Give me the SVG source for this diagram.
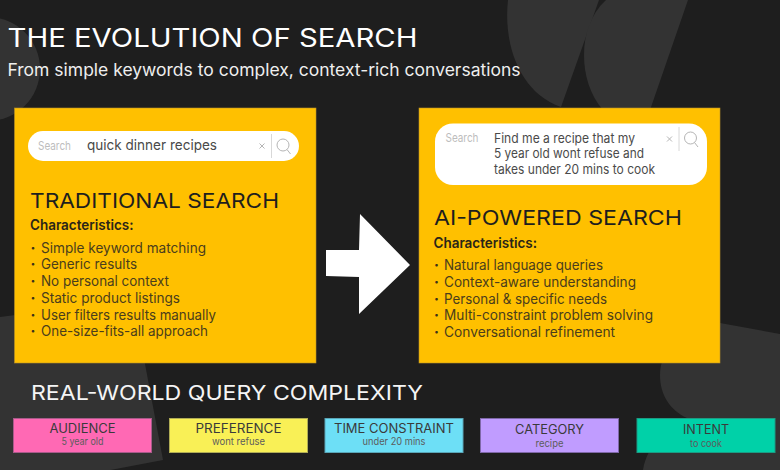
<svg xmlns="http://www.w3.org/2000/svg" width="780" height="470" viewBox="0 0 780 470">
<style>
text{font-family:Inter,"Liberation Sans",sans-serif;}
.bg{fill:#333;}
.panel{fill:#ffc000;stroke:#b8912a;stroke-width:.6;}
.h{font-size:20.500px;fill:#1e1e1e;}
.ch{font-size:14px;font-weight:600;fill:#2a2518;}
.li{font-size:14px;fill:#4a3d1c;}
.dot{font-size:14px;font-weight:800;fill:#3a3018;}
.bar{fill:#fff;}
.ph{font-size:12px;fill:#bdbdbd;}
.q{font-size:14.500px;fill:#4a4a4a;}
.q2{font-size:13px;fill:#4a4a4a;}
.ic{fill:none;stroke:#b5b5b5;stroke-width:1;}
.div{stroke:#d8d8d8;stroke-width:1;}
.card{stroke-width:1;}
.ct{font-size:12.500px;fill:#3a3a3a;text-anchor:middle;}
.cs{font-size:10.500px;fill:#5c5c5c;text-anchor:middle;}
</style>
<rect width="780" height="470" fill="#1e1e1e"/>
<g id="background-shapes">
<circle class="bg" cx="-12" cy="69" r="52"/>
<path class="bg" d="M0 317L133 300L163 460L100 472L0 472Z"/>
<path class="bg" d="M508 0C503 45 520 93 561 107L599 0Z"/>
<path class="bg" d="M606 0C590 15 584 35 584 55C584 75 590 95 603 110L650 110L688 0Z"/>
<path class="bg" d="M720 323L780 334L780 470L643 470C644 463 646 458 649 452L687 418C670 410 660 395 660 375C660 350 680 325 720 323Z"/>
</g>
<g id="title">
<text x="7.500" y="46.500" font-size="25" fill="#fff" textLength="410" lengthAdjust="spacingAndGlyphs">THE EVOLUTION OF SEARCH</text>
<text x="7.500" y="76" font-size="17" fill="#efefef" textLength="513" lengthAdjust="spacingAndGlyphs">From simple keywords to complex, context-rich conversations</text>
</g>
<g id="connectors">
<path fill="#fff" d="M360 214L410 265L359 314L359 277L326 276L326 250L359 250Z"/>
</g>
<g id="traditional-search">
<rect class="panel" x="14.500" y="108" width="301.500" height="255"/>
<rect class="bar" x="28" y="131" width="271" height="30" rx="15"/>
<text class="ph" x="38" y="149.500" textLength="33" lengthAdjust="spacingAndGlyphs">Search</text>
<text class="q" x="87" y="150" textLength="130" lengthAdjust="spacingAndGlyphs">quick dinner recipes</text>
<path class="ic" d="M259.500 143.500l5 5m0-5l-5 5"/>
<path class="div" d="M271.500 134v24"/>
<circle class="ic" cx="283" cy="145" r="6"/><path class="ic" d="M287 149.500l3.500 4.500"/>
<text class="h" x="30" y="208" textLength="249" lengthAdjust="spacingAndGlyphs">TRADITIONAL SEARCH</text>
<text class="ch" x="30" y="230" textLength="103.500" lengthAdjust="spacingAndGlyphs">Characteristics:</text>
<text class="dot" x="30.500" y="252.500">·</text><text class="li" x="41" y="252.500" textLength="165" lengthAdjust="spacingAndGlyphs">Simple keyword matching</text>
<text class="dot" x="30.500" y="269">·</text><text class="li" x="41" y="269" textLength="96" lengthAdjust="spacingAndGlyphs">Generic results</text>
<text class="dot" x="30.500" y="286">·</text><text class="li" x="41" y="286" textLength="128" lengthAdjust="spacingAndGlyphs">No personal context</text>
<text class="dot" x="30.500" y="302.500">·</text><text class="li" x="41" y="302.500" textLength="139" lengthAdjust="spacingAndGlyphs">Static product listings</text>
<text class="dot" x="30.500" y="319.500">·</text><text class="li" x="41" y="319.500" textLength="175" lengthAdjust="spacingAndGlyphs">User filters results manually</text>
<text class="dot" x="30.500" y="336">·</text><text class="li" x="41" y="336" textLength="167" lengthAdjust="spacingAndGlyphs">One-size-fits-all approach</text>
</g>
<g id="ai-powered-search">
<rect class="panel" x="419" y="108" width="301" height="255"/>
<rect class="bar" x="435" y="123.500" width="272" height="61.500" rx="18"/>
<text class="ph" x="445.500" y="142" textLength="33" lengthAdjust="spacingAndGlyphs">Search</text>
<text class="q2" x="494" y="143" textLength="141" lengthAdjust="spacingAndGlyphs">Find me a recipe that my</text>
<text class="q2" x="494" y="158" textLength="150" lengthAdjust="spacingAndGlyphs">5 year old wont refuse and</text>
<text class="q2" x="494" y="173.500" textLength="161" lengthAdjust="spacingAndGlyphs">takes under 20 mins to cook</text>
<path class="ic" d="M667 136.500l5 5m0-5l-5 5"/>
<path class="div" d="M679 127v24"/>
<circle class="ic" cx="690.500" cy="138" r="6"/><path class="ic" d="M694.500 142.500l3.500 4.500"/>
<text class="h" x="434" y="225" textLength="248" lengthAdjust="spacingAndGlyphs">AI-POWERED SEARCH</text>
<text class="ch" x="433.500" y="247.500" textLength="103.500" lengthAdjust="spacingAndGlyphs">Characteristics:</text>
<text class="dot" x="434" y="270">·</text><text class="li" x="444" y="270" textLength="159" lengthAdjust="spacingAndGlyphs">Natural language queries</text>
<text class="dot" x="434" y="286.500">·</text><text class="li" x="444" y="286.500" textLength="192" lengthAdjust="spacingAndGlyphs">Context-aware understanding</text>
<text class="dot" x="434" y="303.500">·</text><text class="li" x="444" y="303.500" textLength="163" lengthAdjust="spacingAndGlyphs">Personal &amp; specific needs</text>
<text class="dot" x="434" y="320">·</text><text class="li" x="444" y="320" textLength="209" lengthAdjust="spacingAndGlyphs">Multi-constraint problem solving</text>
<text class="dot" x="434" y="337">·</text><text class="li" x="444" y="337" textLength="171" lengthAdjust="spacingAndGlyphs">Conversational refinement</text>
</g>
<g id="complexity-heading">
<text x="31" y="399.500" font-size="20.500" fill="#f5f5f5" textLength="392" lengthAdjust="spacingAndGlyphs">REAL-WORLD QUERY COMPLEXITY</text>
</g>
<g id="audience">
<rect class="card" x="13.500" y="418.500" width="138" height="34" fill="#ff69b4" stroke="#a85a8a"/>
<text class="ct" x="82.500" y="432.500" textLength="66" lengthAdjust="spacingAndGlyphs">AUDIENCE</text>
<text class="cs" x="82.500" y="445" textLength="42" lengthAdjust="spacingAndGlyphs">5 year old</text>
</g>
<g id="preference">
<rect class="card" x="169.500" y="418.500" width="138" height="34" fill="#f9f056" stroke="#b0ac55"/>
<text class="ct" x="238.500" y="432.500" textLength="86" lengthAdjust="spacingAndGlyphs">PREFERENCE</text>
<text class="cs" x="238.500" y="445" textLength="53" lengthAdjust="spacingAndGlyphs">wont refuse</text>
</g>
<g id="time-constraint">
<rect class="card" x="325" y="418.500" width="138" height="34" fill="#6ddff6" stroke="#5aa6b8"/>
<text class="ct" x="394" y="432.500" textLength="120" lengthAdjust="spacingAndGlyphs">TIME CONSTRAINT</text>
<text class="cs" x="394" y="445" textLength="63" lengthAdjust="spacingAndGlyphs">under 20 mins</text>
</g>
<g id="category">
<rect class="card" x="480.500" y="418.500" width="138" height="34" fill="#c09cff" stroke="#7f68a8"/>
<text class="ct" x="549.500" y="434" textLength="69" lengthAdjust="spacingAndGlyphs">CATEGORY</text>
<text class="cs" x="549.500" y="446.500" textLength="28" lengthAdjust="spacingAndGlyphs">recipe</text>
</g>
<g id="intent">
<rect class="card" x="637" y="418.500" width="138" height="34" fill="#00d1a8" stroke="#1b9c84"/>
<text class="ct" x="706" y="434" textLength="46" lengthAdjust="spacingAndGlyphs">INTENT</text>
<text class="cs" x="706" y="446.500" textLength="32" lengthAdjust="spacingAndGlyphs">to cook</text>
</g>
</svg>
